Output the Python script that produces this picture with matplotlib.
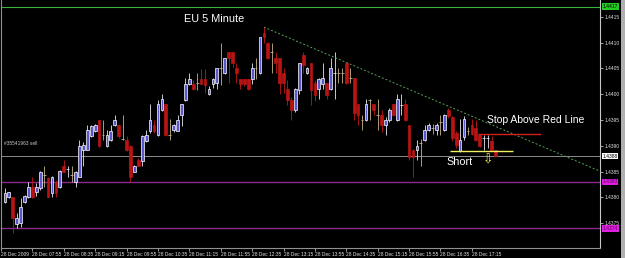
import numpy as np
import matplotlib.pyplot as plt
from matplotlib.transforms import blended_transform_factory
from matplotlib.patches import Rectangle

# EURUSD M5, 28 Dec 2009, bars from 07:20 to 17:45
opens = [1.43792, 1.43800, 1.43801, 1.43749, 1.43750, 1.43791, 1.43800, 1.43821, 1.43811, 1.43818,
         1.43843, 1.43838, 1.43809, 1.43830, 1.43820, 1.43861, 1.43855, 1.43843, 1.43829, 1.43840,
         1.43891, 1.43892, 1.43919, 1.43929, 1.43951, 1.43921, 1.43900, 1.43911, 1.43940, 1.43940,
         1.43913, 1.43911, 1.43900, 1.43850, 1.43873, 1.43871, 1.43909, 1.43929, 1.43940, 1.43921,
         1.43969, 1.43981, 1.43921, 1.43931, 1.43929, 1.43960, 1.43989, 1.44020, 1.44020, 1.44022,
         1.44029, 1.44029, 1.44000, 1.44020, 1.44021, 1.44050, 1.44041, 1.44081, 1.44081, 1.44050,
         1.44029, 1.44029, 1.44029, 1.44029, 1.44050, 1.44041, 1.44119, 1.44100, 1.44081, 1.44070,
         1.44070, 1.44041, 1.44010, 1.43989, 1.43969, 1.44008, 1.44076, 1.44041, 1.44060, 1.44021,
         1.44010, 1.44020, 1.44021, 1.44010, 1.44041, 1.44041, 1.44041, 1.44060, 1.44031, 1.44031,
         1.43981, 1.43950, 1.43950, 1.43989, 1.43981, 1.43960, 1.43960, 1.43940, 1.43950, 1.43981,
         1.43950, 1.43979, 1.43981, 1.43940, 1.43892, 1.43891, 1.43905, 1.43911, 1.43931, 1.43935,
         1.43931, 1.43946, 1.43931, 1.43969, 1.43956, 1.43925, 1.43890, 1.43917, 1.43929, 1.43940,
         1.43935, 1.43921, 1.43915, 1.43915, 1.43910, 1.43891]
highs = [1.43818, 1.43811, 1.43801, 1.43770, 1.43799, 1.43805, 1.43829, 1.43840, 1.43828, 1.43851,
         1.43861, 1.43840, 1.43841, 1.43834, 1.43853, 1.43873, 1.43861, 1.43861, 1.43851, 1.43911,
         1.43908, 1.43940, 1.43940, 1.43942, 1.43951, 1.43950, 1.43931, 1.43940, 1.43960, 1.43940,
         1.43960, 1.43919, 1.43902, 1.43863, 1.43876, 1.43921, 1.43931, 1.43982, 1.43950, 1.43989,
         1.44000, 1.43982, 1.43952, 1.43942, 1.43960, 1.43982, 1.44031, 1.44041, 1.44028, 1.44041,
         1.44049, 1.44048, 1.44015, 1.44031, 1.44051, 1.44100, 1.44071, 1.44082, 1.44082, 1.44060,
         1.44030, 1.44030, 1.44030, 1.44060, 1.44070, 1.44111, 1.44130, 1.44101, 1.44100, 1.44081,
         1.44071, 1.44050, 1.44028, 1.43995, 1.44012, 1.44061, 1.44081, 1.44053, 1.44061, 1.44028,
         1.44032, 1.44060, 1.44022, 1.44070, 1.44081, 1.44050, 1.44050, 1.44061, 1.44050, 1.44032,
         1.43982, 1.43960, 1.43990, 1.43990, 1.43982, 1.43990, 1.43969, 1.43956, 1.43973, 1.43982,
         1.44000, 1.44000, 1.43990, 1.43941, 1.43893, 1.43911, 1.43913, 1.43940, 1.43944, 1.43942,
         1.43944, 1.43960, 1.43962, 1.43973, 1.43957, 1.43929, 1.43952, 1.43958, 1.43936, 1.43952,
         1.43950, 1.43923, 1.43921, 1.43921, 1.43919, 1.43892]
lows = [1.43789, 1.43798, 1.43731, 1.43741, 1.43743, 1.43789, 1.43799, 1.43799, 1.43803, 1.43814,
        1.43821, 1.43800, 1.43801, 1.43801, 1.43818, 1.43849, 1.43840, 1.43830, 1.43820, 1.43839,
        1.43860, 1.43891, 1.43918, 1.43927, 1.43898, 1.43911, 1.43898, 1.43910, 1.43938, 1.43915,
        1.43911, 1.43890, 1.43830, 1.43849, 1.43860, 1.43860, 1.43908, 1.43925, 1.43925, 1.43919,
        1.43968, 1.43919, 1.43911, 1.43927, 1.43928, 1.43938, 1.43987, 1.44018, 1.44008, 1.44008,
        1.44019, 1.44003, 1.43999, 1.44012, 1.44010, 1.44018, 1.44040, 1.44021, 1.44053, 1.44021,
        1.44010, 1.44016, 1.44008, 1.44020, 1.44029, 1.44040, 1.44100, 1.44069, 1.44041, 1.44041,
        1.44000, 1.44002, 1.43979, 1.43950, 1.43966, 1.44000, 1.44041, 1.44039, 1.43979, 1.43986,
        1.43990, 1.44010, 1.43990, 1.44009, 1.43990, 1.44021, 1.44021, 1.44020, 1.44021, 1.43950,
        1.43940, 1.43931, 1.43949, 1.43950, 1.43960, 1.43931, 1.43927, 1.43921, 1.43947, 1.43958,
        1.43949, 1.43960, 1.43949, 1.43873, 1.43840, 1.43873, 1.43860, 1.43910, 1.43929, 1.43923,
        1.43921, 1.43921, 1.43929, 1.43954, 1.43909, 1.43896, 1.43888, 1.43911, 1.43921, 1.43921,
        1.43909, 1.43898, 1.43892, 1.43896, 1.43890, 1.43878]
closes = [1.43809, 1.43810, 1.43760, 1.43761, 1.43781, 1.43803, 1.43821, 1.43800, 1.43820, 1.43850,
          1.43843, 1.43801, 1.43840, 1.43809, 1.43851, 1.43850, 1.43856, 1.43843, 1.43850, 1.43900,
          1.43902, 1.43931, 1.43939, 1.43940, 1.43900, 1.43921, 1.43921, 1.43929, 1.43951, 1.43919,
          1.43913, 1.43891, 1.43840, 1.43861, 1.43861, 1.43919, 1.43921, 1.43951, 1.43929, 1.43981,
          1.43990, 1.43921, 1.43921, 1.43940, 1.43951, 1.43981, 1.44020, 1.44029, 1.44010, 1.44022,
          1.44020, 1.44018, 1.44010, 1.44029, 1.44050, 1.44050, 1.44070, 1.44070, 1.44060, 1.44041,
          1.44020, 1.44020, 1.44010, 1.44050, 1.44050, 1.44110, 1.44110, 1.44070, 1.44081, 1.44060,
          1.44021, 1.44021, 1.43989, 1.43969, 1.44010, 1.44060, 1.44057, 1.44050, 1.44008, 1.43999,
          1.44030, 1.44031, 1.43999, 1.44050, 1.44042, 1.44041, 1.44041, 1.44021, 1.44031, 1.43963,
          1.43960, 1.43950, 1.43981, 1.43989, 1.43969, 1.43960, 1.43940, 1.43950, 1.43969, 1.43960,
          1.43990, 1.43980, 1.43950, 1.43879, 1.43879, 1.43900, 1.43905, 1.43931, 1.43940, 1.43935,
          1.43940, 1.43946, 1.43960, 1.43958, 1.43915, 1.43902, 1.43911, 1.43952, 1.43929, 1.43923,
          1.43911, 1.43900, 1.43916, 1.43916, 1.43891, 1.43880]

time_ticks = list(range(-1, 120, 8))
time_labels = ['28 Dec 2009', '28 Dec 07:55', '28 Dec 08:35', '28 Dec 09:15', '28 Dec 09:55',
               '28 Dec 10:35', '28 Dec 11:15', '28 Dec 11:55', '28 Dec 12:35', '28 Dec 13:15',
               '28 Dec 13:55', '28 Dec 14:35', '28 Dec 15:15', '28 Dec 15:55', '28 Dec 16:35',
               '28 Dec 17:15']
price_ticks = [1.4375, 1.4380, 1.4385, 1.4390, 1.4395, 1.4400, 1.4405, 1.4410, 1.4415]

# trendline anchors (bar index, price)
trend_x = [66, 151.6]
trend_y = [1.44130, 1.43851]
stop_level = 1.43923
entry_level = 1.43890
sell_level = 1.4388
support1 = 1.4383
support2 = 1.4374
top_level = 1.4417

plt.rcParams['font.family'] = ['Liberation Sans', 'DejaVu Sans']

o = np.array(opens)
h = np.array(highs)
l = np.array(lows)
c = np.array(closes)
idx = np.arange(len(o))
up = c > o
dn = c < o
fl = c == o

fig = plt.figure(figsize=(6.25, 2.58), dpi=100, facecolor='black')
ax = fig.add_axes([1/625, 10/258, 599/625, 248/258])
ax.set_facecolor('black')

# levels
ax.axhline(top_level, color='#3cb43c', lw=0.8)
ax.axhline(sell_level, color='#8c8c8c', lw=0.7)
ax.axhline(support1, color='#8a2a8a', lw=1.0)
ax.axhline(support2, color='#8a2a8a', lw=1.0)

# candles
ax.vlines(idx[up], l[up], h[up], color='#e6e6f6', lw=0.6, zorder=2)
ax.vlines(idx[dn], l[dn], h[dn], color='#c01818', lw=0.6, zorder=2)
ax.vlines(idx[fl], l[fl], h[fl], color='#c8b48c', lw=0.6, zorder=2)
ax.bar(idx[up], (c - o)[up], bottom=o[up], width=0.7, color='#5858cc',
       edgecolor='white', lw=0.5, zorder=3)
ax.bar(idx[dn], (o - c)[dn], bottom=c[dn], width=0.7, color='#b81414',
       edgecolor='#b81414', lw=0.5, zorder=3)
ax.hlines(c[fl], idx[fl] - 0.35, idx[fl] + 0.35, color='#c8b48c', lw=0.6, zorder=3)

# trendline and trade lines
ax.plot(trend_x, trend_y, color='#5aa05a', lw=0.7, ls=(0, (2, 2)), zorder=4)
ax.hlines(stop_level, 120.6, 136.6, color='#d02020', lw=1.0, zorder=4)
ax.hlines(entry_level, 113.5, 129.5, color='#f0f060', lw=1.0, zorder=4)

# annotations
ax.text(53.4, 1.44146, 'EU 5 Minute', color='white', fontsize=7.8, ha='center', va='center')
ax.text(122.9, 1.4395, 'Stop Above Red Line', color='white', fontsize=7.5, ha='left', va='center')
ax.text(112.4, 1.43869, 'Short', color='white', fontsize=7.8, ha='left', va='center')
ax.text(123.2, 1.43872, '\u21e9', color='#f0f060', fontsize=9, ha='center', va='center',
        family='DejaVu Sans')
ax.text(-0.3, 1.43905, '#35541963 sell', color='#c8c8c8', fontsize=3.5, ha='left', va='center')

ax.set_xlim(-0.76, 151.65)
ax.set_ylim(1.43702, 1.441826)

ax.yaxis.tick_right()
ax.set_yticks(price_ticks)
ax.set_yticklabels(['%.4f' % p for p in price_ticks])
ax.set_xticks(time_ticks)
ax.set_xticklabels(time_labels)
for lbl in ax.get_xticklabels():
    lbl.set_ha('left')
ax.tick_params(axis='both', colors='#e0e0e0', labelsize=3.5, length=2, width=0.5, pad=1)

for s in ['left', 'bottom']:
    ax.spines[s].set_color('#909090')
    ax.spines[s].set_linewidth(0.8)
ax.spines['right'].set_color('#c8c8c8')
ax.spines['right'].set_linewidth(0.8)
ax.spines['top'].set_visible(False)

# price boxes on the right scale
tr = blended_transform_factory(ax.transAxes, ax.transData)
boxes = [(top_level, '#22cc22', 'black'), (sell_level, 'white', 'black'),
         (support1, '#e020e0', '#600060'), (support2, '#e020e0', '#600060')]
for lev, fc, tc in boxes:
    ax.text(1.004, lev, '%.4f' % lev, transform=tr, fontsize=3.6, color=tc, ha='left',
            va='center', bbox=dict(boxstyle='square,pad=0.15', fc=fc, ec='none'), zorder=5)

fig.patches.append(Rectangle((621/625, 0), 4/625, 1, transform=fig.transFigure,
                             facecolor='#b0b0b0', edgecolor='none'))

fig.savefig('out.png', dpi=100, facecolor='black')
